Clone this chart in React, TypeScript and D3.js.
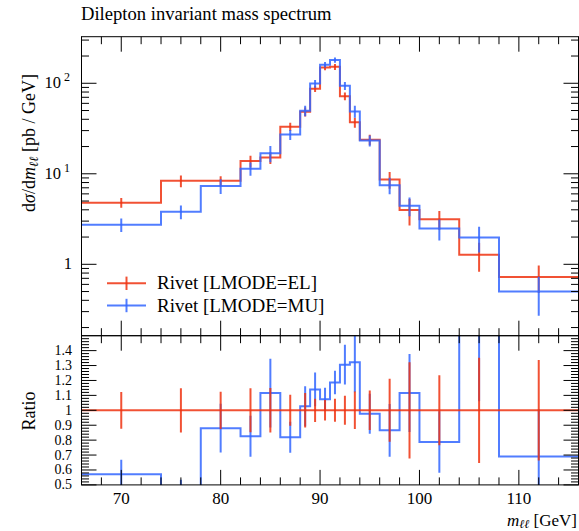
import React from 'react';
import * as d3 from 'd3';

// bin edges in GeV
const binEdges = [66, 74, 78, 82, 84, 86, 88, 89, 90, 91, 92, 93, 94, 96, 98, 100, 104, 108, 116];

// Rivet [LMODE=EL]
const elValues = [4.8, 8.35, 8.35, 13.8, 15.1, 33.1, 48.5, 87, 149.5, 152, 72, 37, 23.8, 8.65, 3.97, 3.15, 1.277, 0.725];
const elErrors = [0.59, 1.24, 1.04, 2.03, 2.25, 3.44, 5.6, 6.8, 10.2, 11.7, 7.0, 4.66, 3.14, 1.83, 1.28, 0.74, 0.45, 0.244];

// Rivet [LMODE=MU]
const muValues = [2.74, 3.81, 7.35, 11.4, 16.84, 27.1, 49.8, 99.2, 160.6, 180.4, 94.0, 48.9, 23.25, 7.49, 4.43, 2.48, 1.98, 0.5];
const muErrors = [0.47, 0.66, 1.36, 1.9, 3.47, 3.44, 6.5, 9.8, 11.5, 12.0, 9.6, 7.4, 3.2, 1.53, 1.04, 0.65, 0.626, 0.23];

const xMajorTicks = [70, 80, 90, 100, 110];
const yMainMajor = [1, 10, 100];
const yMainLabels = [['1', ''], ['10', '1'], ['10', '2']];
const ratioLabels = ['0.5', '0.6', '0.7', '0.8', '0.9', '1', '1.1', '1.2', '1.3', '1.4'];

const RED = '#ee3311';
const BLUE = '#3366ff';
const FONT = '"Liberation Serif", serif';

const L = 81.5, R = 578.5;
const mainTop = 36.7, mainBot = 335.7, ratioBot = 484.9;

export default function App() {
  const x = d3.scaleLinear().domain([66, 116]).range([L, R]);
  const y = d3.scaleLog().domain([0.1626, 327]).range([mainBot, mainTop]);
  const yr = d3.scaleLinear().domain([0.5, 1.5]).range([ratioBot, mainBot]);

  const series = [
    { name: 'Rivet [LMODE=EL]', color: RED, vals: elValues, errs: elErrors },
    { name: 'Rivet [LMODE=MU]', color: BLUE, vals: muValues, errs: muErrors },
  ];

  const stepPath = (vals: number[], sy: (v: number) => number) => {
    const pts: [number, number][] = vals.map((v, i) => [x(binEdges[i]), sy(v)]);
    pts.push([x(binEdges[binEdges.length - 1]), sy(vals[vals.length - 1])]);
    return d3.line().curve(d3.curveStepAfter)(pts) || '';
  };
  const centers = binEdges.slice(0, -1).map((e, i) => (e + binEdges[i + 1]) / 2);
  const ylog = (v: number) => y(Math.max(v, 1e-3));

  // minor ticks
  const xMinor = d3.range(66, 117, 2).filter(v => !xMajorTicks.includes(v));
  const yMinor: number[] = [];
  [0.1, 1, 10, 100].forEach(d => d3.range(2, 10).forEach(k => {
    const v = k * d;
    if (v > 0.1626 && v < 327) yMinor.push(v);
  }));
  const rMajor = d3.range(0, 10).map(i => 0.5 + i * 0.1);
  const rMinor = d3.range(0, 51).map(i => 0.5 + i * 0.02).filter((v, i) => i % 5 !== 0);

  const maj = 15, mnr = 7.5;
  const tk = { stroke: '#000', strokeWidth: 1 };

  // ratio series relative to EL
  const ratioSeries = [
    { color: BLUE, vals: muValues.map((v, i) => v / elValues[i]), errs: muErrors.map((e, i) => e / elValues[i]) },
    { color: RED, vals: elValues.map(() => 1), errs: elErrors.map((e, i) => e / elValues[i]) },
  ];

  return (
    <svg width={579} height={531} style={{ position: 'absolute', left: 0, top: 0, background: '#fff' }}
      fontFamily={FONT}>
      <defs>
        <clipPath id="clipMain"><rect x={L} y={mainTop} width={R - L} height={mainBot - mainTop} /></clipPath>
        <clipPath id="clipRatio"><rect x={L} y={mainBot} width={R - L} height={ratioBot - mainBot} /></clipPath>
      </defs>

      <text x={81} y={20} fontSize={18.6}>Dilepton invariant mass spectrum</text>

      {/* main panel data */}
      <g clipPath="url(#clipMain)" fill="none" strokeWidth={2} strokeOpacity={0.85}>
        {series.map(s => (
          <g key={s.name} stroke={s.color}>
            <path d={stepPath(s.vals, ylog)} />
            {s.vals.map((v, i) => (
              <line key={i} x1={x(centers[i])} x2={x(centers[i])} y1={ylog(v - s.errs[i])} y2={ylog(v + s.errs[i])} />
            ))}
          </g>
        ))}
      </g>

      {/* ratio panel data */}
      <g clipPath="url(#clipRatio)" fill="none" strokeWidth={2} strokeOpacity={0.85}>
        {ratioSeries.map((s, k) => (
          <g key={k} stroke={s.color}>
            <path d={stepPath(s.vals, yr)} />
            {s.vals.map((v, i) => (
              <line key={i} x1={x(centers[i])} x2={x(centers[i])} y1={yr(v - s.errs[i])} y2={yr(v + s.errs[i])} />
            ))}
          </g>
        ))}
      </g>

      {/* frames */}
      <rect x={L} y={mainTop} width={R - L} height={mainBot - mainTop} fill="none" stroke="#000" strokeWidth={1} />
      <rect x={L} y={mainBot} width={R - L} height={ratioBot - mainBot} fill="none" stroke="#000" strokeWidth={1} />

      {/* ticks on all edges, pointing inwards */}
      <g {...tk}>
        {[...xMajorTicks.map(v => [v, maj]), ...xMinor.map(v => [v, mnr])].map(([v, len], i) => (
          <g key={i}>
            <line x1={x(v)} x2={x(v)} y1={mainTop} y2={mainTop + len} />
            <line x1={x(v)} x2={x(v)} y1={mainBot} y2={mainBot - len} />
            <line x1={x(v)} x2={x(v)} y1={mainBot} y2={mainBot + len} />
            <line x1={x(v)} x2={x(v)} y1={ratioBot} y2={ratioBot - len} />
          </g>
        ))}
        {[...yMainMajor.map(v => [v, maj]), ...yMinor.map(v => [v, mnr])].map(([v, len], i) => (
          <g key={'m' + i}>
            <line x1={L} x2={L + len} y1={y(v)} y2={y(v)} />
            <line x1={R} x2={R - len} y1={y(v)} y2={y(v)} />
          </g>
        ))}
        {[...rMajor.map(v => [v, maj]), ...rMinor.map(v => [v, mnr])].map(([v, len], i) => (
          <g key={'r' + i}>
            <line x1={L} x2={L + len} y1={yr(v)} y2={yr(v)} />
            <line x1={R} x2={R - len} y1={yr(v)} y2={yr(v)} />
          </g>
        ))}
      </g>

      {/* tick labels */}
      {xMajorTicks.map(v => (
        <text key={v} x={x(v)} y={504} fontSize={17} textAnchor="middle">{v}</text>
      ))}
      {yMainMajor.map((v, i) => (
        <text key={v} x={yMainLabels[i][1] ? 70 : 72} y={y(v) + 5} fontSize={16.5} textAnchor="end">
          {yMainLabels[i][0]}
          {yMainLabels[i][1] && <tspan dx={3} dy={-7} fontSize={12}>{yMainLabels[i][1]}</tspan>}
        </text>
      ))}
      {rMajor.map((v, i) => (
        <text key={i} x={72} y={yr(v) + 4.5} fontSize={14} textAnchor="end">{ratioLabels[i]}</text>
      ))}

      {/* axis titles */}
      <text x={577} y={526} fontSize={17} textAnchor="end">
        <tspan fontStyle="italic">m</tspan>
        <tspan fontStyle="italic" fontSize={12} dy={2}>ℓℓ</tspan>
        <tspan dy={-2}> [GeV]</tspan>
      </text>
      <text transform="translate(35,143) rotate(-90)" fontSize={18} textAnchor="middle">
        <tspan>d</tspan><tspan fontStyle="italic">σ</tspan><tspan>/d</tspan>
        <tspan fontStyle="italic">m</tspan>
        <tspan fontStyle="italic" fontSize={12.5} dy={3}>ℓℓ</tspan>
        <tspan dy={-3}> [pb / GeV]</tspan>
      </text>
      <text transform="translate(35,411) rotate(-90)" fontSize={18} textAnchor="middle">Ratio</text>

      {/* legend */}
      {series.map((s, i) => {
        const ly = 283.3 + i * 22.2;
        return (
          <g key={s.name}>
            <g stroke={s.color} strokeWidth={2} strokeOpacity={0.85}>
              <line x1={107} x2={146} y1={ly} y2={ly} />
              <line x1={126.5} x2={126.5} y1={ly - 6.7} y2={ly + 6.7} />
            </g>
            <text x={157} y={ly + 6} fontSize={19}>{s.name}</text>
          </g>
        );
      })}
    </svg>
  );
}
